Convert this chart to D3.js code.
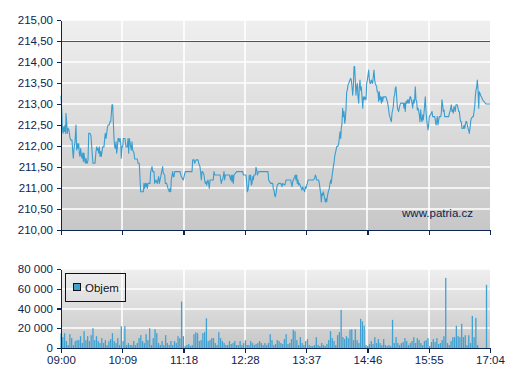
<!DOCTYPE html>
<html><head><meta charset="utf-8">
<script src="https://cdn.jsdelivr.net/npm/d3@7"></script>
<style>
html,body{margin:0;padding:0;background:#fff;}
svg{display:block;font-family:"Liberation Sans",Arial,sans-serif;}
</style></head>
<body><svg id="c" width="507" height="380"></svg>
<script>
// ---- DATA ----
// time axis: minutes after 09:00
const timeTickMinutes = [0, 69.14, 138.29, 207.43, 276.57, 345.71, 414.86, 484];
const timeTickLabels = ["09:00","10:09","11:18","12:28","13:37","14:46","15:55","17:04"];
const priceTicks = [210, 210.5, 211, 211.5, 212, 212.5, 213, 213.5, 214, 214.5, 215];
const referencePrice = 214.5;
const volumeTicks = [0, 20000, 40000, 60000, 80000];
const legendLabel = "Objem";
const watermark = "www.patria.cz";
// [minute, price]
const priceSeries = [
[0,213.2],[0.8,212.86],[1.5,212.45],[2.3,212.30],[3.0,212.46],[3.7,212.34],[4.5,212.50],[5.3,212.30],[5.6,212.78],[6.4,212.58],
[7.1,212.30],[7.9,212.42],[9.0,212.38],[10.2,212.18],[11.3,212.14],[12.4,212.14],[13.5,211.80],[13.9,211.71],[14.7,211.94],[15.8,212.10],
[16.9,212.50],[17.7,211.90],[18.4,212.06],[19.2,211.94],[20.0,212.06],[20.6,211.83],[21.4,211.75],[22.2,211.94],[22.9,211.79],[23.7,211.71],
[24.5,211.83],[25.2,211.63],[25.9,211.83],[26.7,211.67],[27.4,211.59],[28.2,211.71],[29.0,211.59],[29.7,211.59],[30.5,211.67],[31.3,212.30],
[32.7,212.30],[33.8,212.25],[34.6,212.00],[35.3,211.80],[36.1,211.59],[38.4,211.59],[39.5,211.87],[40.3,211.98],[41.0,211.90],[41.7,211.94],
[42.5,211.83],[43.2,211.98],[44.0,211.75],[44.8,211.87],[45.5,211.75],[46.3,211.87],[47.0,211.98],[48.5,211.98],[49.3,212.18],[50.0,212.30],
[50.8,212.18],[51.6,212.30],[52.2,212.42],[53.0,212.50],[54.5,212.50],[55.3,212.58],[56.1,212.58],[56.7,212.74],[57.5,212.98],[58.3,212.98],
[59.0,212.58],[59.8,212.18],[60.6,211.98],[61.3,211.94],[62.1,212.10],[62.8,211.83],[63.5,211.94],[64.3,212.18],[65.1,212.18],[65.8,212.10],
[66.6,212.18],[67.4,212.06],[68.0,211.71],[68.8,211.98],[69.6,211.98],[70.3,212.18],[72.2,212.18],[73.3,211.98],[74.8,211.98],[75.6,212.18],
[76.4,211.83],[77.1,212.18],[77.8,212.10],[78.6,211.98],[79.3,211.90],[80.1,212.10],[80.9,211.90],[82.4,211.83],[83.1,211.69],[86.1,211.69],
[86.9,211.59],[88.3,211.59],[89.9,210.91],[92.9,210.91],[93.6,211.11],[94.4,210.99],[95.1,211.11],[95.9,211.03],[96.7,211.11],[97.4,210.99],
[98.2,211.11],[100.4,211.11],[101.2,211.39],[102.7,211.51],[103.5,211.39],[104.9,211.39],[105.7,211.11],[107.2,211.19],[108.6,211.11],[110.2,211.27],
[110.9,211.11],[112.5,211.27],[113.2,211.35],[114.7,211.51],[115.4,211.35],[117.0,211.31],[117.7,211.11],[119.2,211.11],[120.7,210.99],[122.2,210.91],
[123.0,210.99],[123.8,210.91],[124.4,211.19],[126.0,211.39],[126.7,211.27],[127.5,211.27],[128.3,211.39],[134.3,211.39],[135.7,211.27],[138.0,211.19],
[138.8,211.27],[140.2,211.39],[147.8,211.39],[148.6,211.67],[150.1,211.67],[150.8,211.59],[152.3,211.67],[154.6,211.67],[155.4,211.59],[156.8,211.51],
[157.6,211.35],[158.3,211.19],[159.1,211.39],[159.9,211.39],[161.3,211.31],[162.1,211.19],[162.8,211.11],[163.6,211.15],[164.4,211.07],[165.1,211.15],
[165.8,211.19],[166.6,211.11],[167.3,210.99],[168.1,211.19],[171.8,211.19],[172.6,211.39],[173.4,211.31],[179.4,211.31],[180.2,211.19],[180.9,211.11],
[181.6,211.19],[182.4,211.19],[183.9,211.39],[184.7,211.19],[185.4,211.31],[189.9,211.31],[191.5,211.19],[192.1,211.31],[192.9,211.15],[193.7,211.31],
[194.4,211.11],[195.2,211.31],[198.2,211.39],[203.4,211.39],[205.0,211.39],[205.7,211.31],[208.7,211.31],[209.5,211.11],[210.2,210.91],[211.0,210.95],
[211.8,211.11],[212.4,211.31],[213.2,211.19],[214.0,211.31],[214.7,211.07],[215.5,211.11],[216.3,211.27],[217.0,211.19],[217.7,211.31],[219.2,211.31],
[220.0,211.49],[220.8,211.43],[221.5,211.31],[223.0,211.39],[233.5,211.39],[234.3,211.19],[236.6,211.11],[238.8,211.11],[239.5,210.99],[240.3,210.95],
[241.1,210.83],[241.7,210.79],[242.6,210.87],[243.4,210.99],[244.0,211.07],[245.6,211.11],[247.9,211.11],[248.6,211.07],[249.3,211.03],[250.1,211.11],
[252.4,211.07],[253.1,211.11],[253.8,211.19],[259.1,211.19],[260.6,211.03],[261.4,211.15],[262.1,211.19],[263.7,211.27],[264.3,211.31],[265.1,211.19],
[265.9,211.31],[266.6,211.11],[267.4,211.19],[268.2,211.07],[268.9,211.11],[270.4,211.03],[271.9,210.95],[272.7,211.03],[273.4,210.99],[274.2,210.95],
[274.9,210.91],[275.6,211.03],[276.4,210.99],[277.2,211.07],[277.9,211.11],[278.7,211.19],[284.6,211.19],[286.2,211.23],[286.9,211.31],[287.7,211.27],
[288.5,211.19],[290.7,211.19],[291.4,211.11],[292.2,210.99],[293.0,210.87],[293.7,210.67],[294.5,210.87],[295.2,210.83],[295.9,210.91],[296.7,210.83],
[297.5,210.75],[298.2,210.67],[299.0,210.75],[299.8,210.67],[300.4,210.79],[301.2,210.87],[302.0,210.95],[302.7,210.99],[303.5,211.11],[304.3,211.19],
[304.9,211.11],[305.7,211.27],[306.5,211.39],[307.2,211.51],[308.0,211.59],[308.8,211.75],[309.5,211.83],[310.3,211.90],[311.0,211.98],[312.5,212.00],
[313.3,212.06],[314.0,212.18],[314.8,212.34],[315.6,212.18],[316.2,212.42],[317.0,212.54],[317.8,212.90],[318.5,212.70],[319.3,212.82],[320.1,212.54],
[320.7,212.62],[321.5,212.86],[322.3,213.29],[323.0,213.33],[323.8,213.45],[324.6,213.49],[325.3,213.53],[326.0,213.57],[326.8,213.61],[327.5,213.57],
[328.3,213.41],[329.1,213.21],[329.8,213.41],[330.6,213.89],[331.3,213.89],[332.0,213.57],[332.8,213.21],[333.6,213.41],[334.3,213.49],[335.1,213.17],
[335.9,213.02],[336.5,213.37],[337.3,213.57],[338.1,213.33],[338.8,213.41],[339.6,213.17],[340.4,212.90],[341.1,213.17],[341.9,213.10],[342.6,213.17],
[344.1,213.10],[344.9,213.49],[345.6,213.57],[346.4,213.69],[347.1,213.81],[347.8,213.61],[348.6,213.49],[349.4,213.49],[350.1,213.57],[351.6,213.49],
[352.3,213.65],[353.1,213.81],[353.9,213.57],[354.6,213.49],[355.3,213.45],[356.1,213.41],[356.8,213.29],[357.6,213.29],[358.4,213.06],[359.1,213.29],
[359.9,213.10],[360.6,213.17],[361.4,213.02],[362.2,213.17],[362.9,213.06],[363.7,213.17],[366.7,213.17],[367.5,213.10],[368.2,213.06],[368.9,212.98],
[369.7,212.86],[370.4,212.74],[372.0,212.62],[372.7,212.58],[373.4,212.78],[374.2,212.86],[374.9,212.94],[375.7,213.17],[376.4,213.21],[377.1,213.37],
[377.9,213.41],[378.7,213.17],[379.4,212.94],[380.1,212.86],[380.9,212.82],[381.6,212.90],[382.5,212.98],[383.2,213.02],[386.2,213.02],[387.0,212.90],
[387.7,213.02],[388.4,212.82],[389.2,213.06],[390.0,213.02],[390.7,213.10],[391.5,213.02],[392.3,213.10],[392.9,213.02],[393.7,213.17],[394.5,213.17],
[395.2,213.10],[396.0,213.02],[396.8,212.90],[397.5,213.10],[398.3,213.02],[399.0,213.10],[399.7,213.41],[400.5,213.10],[401.3,213.06],[402.0,212.86],
[402.8,212.90],[403.6,212.82],[404.3,212.74],[405.0,212.58],[405.8,212.86],[406.5,212.66],[407.3,212.58],[408.1,212.74],[408.7,212.62],[409.5,212.78],
[410.3,212.98],[411.0,213.17],[411.8,212.82],[412.6,212.62],[413.3,212.50],[414.1,212.38],[414.8,212.50],[415.5,212.70],[417.8,212.78],[418.6,212.82],
[419.3,212.70],[421.6,212.70],[422.3,212.62],[423.1,212.50],[423.9,212.58],[424.5,212.70],[425.3,212.50],[426.1,212.62],[426.8,212.70],[428.4,212.70],
[429.1,212.78],[429.8,213.10],[430.6,212.98],[431.3,212.82],[432.1,212.86],[432.9,212.70],[437.4,212.70],[438.1,212.78],[438.9,212.82],[440.3,212.98],
[441.1,212.82],[441.9,212.86],[442.6,212.78],[443.4,212.94],[444.2,212.90],[444.8,212.82],[445.6,212.98],[447.1,212.98],[447.9,212.90],[448.7,212.82],
[449.4,212.82],[450.2,212.66],[450.9,212.58],[451.6,212.58],[452.4,212.42],[453.9,212.42],[454.7,212.50],[455.5,212.42],[456.1,212.50],[456.9,212.58],
[457.7,212.58],[458.4,212.50],[459.2,212.42],[460.0,212.38],[460.6,212.30],[461.4,212.42],[462.2,212.58],[462.9,212.66],[464.5,212.70],[465.2,212.70],
[466.0,212.82],[466.8,212.94],[467.4,213.17],[468.2,213.33],[469.0,213.41],[469.7,213.57],[470.5,213.33],[471.3,212.90],[471.9,213.29],[472.7,213.25],
[474.2,213.17],[475.8,213.10],[477.2,213.06],[478.7,213.02],[479.5,213.00],[484.0,213.00]
];
// volume in thousands of shares, one bar per 2-minute interval starting at 09:00
const volumeStepMinutes = 2;
const volumesThousands = [
15,11,15,7,3,14,10,3,7,8, 8,12,5,17,8,12,7,13,20,8, 12,7,5,10,5,8,3,7,9,15, 7,5,10,3,22,7,22,3,5,3,
3,7,3,5,10,13,7,5,14,8, 20,3,10,19,15,5,3,7,3,13, 5,3,7,3,7,5,12,10,47,12, 2,3,4,2,3,14,16,15,7,8,
15,16,30,7,8,10,10,5,3,16, 10,7,5,3,3,7,4,5,7,3, 3,7,3,5,8,3,3,7,5,3, 4,5,7,5,3,5,3,5,14,8,
3,4,8,7,5,4,9,14,4,5, 9,18.5,17,8,3,11,5,3,7,9, 3,2,2,3,11,3,2,5,3,2, 4,8,17,10,7,3,13,16,38.6,11,
9,12,10,18.5,19,8,19,8,5,29.5, 27,22.5,3,2,4,7,4,11,5,9, 5,3,9,3,2,3,2,28.5,5,11, 5,3,5,6,10,7,3,5,7,11,
5,10,8,5,3,7,8,10,2,6, 9,6,10,4,5,8,12,71,5,3, 7,11,11,22.5,12,11,24.5,11,13,3, 13,5,32.5,11,30.5,3,0,0,0,0,
64,0
];

// ---- CHART ----
const navy = "#0c2452";
const lineBlue = "#3a9dcf";
const svg = d3.select("#c");
const L = 61, R = 490;
const topY0 = 20, topY1 = 230;
const botY0 = 269, botY1 = 348;

const defs = svg.append("defs");
const grad = defs.append("linearGradient").attr("id","bg").attr("x1",0).attr("y1",0).attr("x2",0).attr("y2",1);
grad.append("stop").attr("offset","0%").attr("stop-color","#efefef");
grad.append("stop").attr("offset","100%").attr("stop-color","#c7c7c7");

const x = d3.scaleLinear().domain([0, 484]).range([L, R]);
const yP = d3.scaleLinear().domain([210, 215]).range([topY1, topY0]);
const yV = d3.scaleLinear().domain([0, 80000]).range([botY1, botY0]);

function panel(y0, y1, yScale, ticks) {
  const g = svg.append("g");
  g.append("rect").attr("x", L).attr("y", y0).attr("width", R - L).attr("height", y1 - y0).attr("fill", "url(#bg)");
  g.selectAll("line.h").data(ticks.filter(d => yScale(d) < y1 - 1)).join("line")
    .attr("x1", L).attr("x2", R).attr("y1", d => Math.round(yScale(d))).attr("y2", d => Math.round(yScale(d)))
    .attr("stroke", "#fff").attr("stroke-width", 1.6);
  g.selectAll("line.v").data(timeTickMinutes.slice(1, -1)).join("line")
    .attr("x1", d => Math.round(x(d))).attr("x2", d => Math.round(x(d))).attr("y1", y0).attr("y2", y1)
    .attr("stroke", "#fff").attr("stroke-width", 1.6);
  return g;
}

// price panel
panel(topY0, topY1, yP, priceTicks);
svg.append("line").attr("x1", L).attr("x2", R)
  .attr("y1", Math.round(yP(referencePrice)) + 0.5).attr("y2", Math.round(yP(referencePrice)) + 0.5)
  .attr("stroke", "#a8302c").attr("stroke-width", 1);
svg.append("path").datum(priceSeries)
  .attr("fill", "none").attr("stroke", lineBlue).attr("stroke-width", 1.1).attr("stroke-linejoin", "round")
  .attr("d", d3.line().x(d => x(d[0])).y(d => yP(d[1])));
svg.append("text").attr("x", 473).attr("y", 217).attr("text-anchor", "end")
  .attr("font-size", 11.5).attr("fill", navy).text(watermark);

const fmtPrice = d => d.toFixed(2).replace(".", ",");
const fmtVol = d => d === 0 ? "0" : d3.format(",")(d).replace(/,/g, " ");

function styleAxis(g) {
  g.attr("shape-rendering", "crispEdges");
  g.selectAll("path.domain").attr("stroke", navy).attr("stroke-width", 1.3);
  g.selectAll(".tick line").attr("stroke", navy).attr("stroke-width", 1.3);
  g.selectAll(".tick text").attr("fill", navy).attr("font-size", 11.5)
    .attr("font-family", "'Liberation Sans',Arial,sans-serif").attr("shape-rendering", null);
}

svg.append("g").attr("transform", `translate(${L},0)`)
  .call(d3.axisLeft(yP).tickValues(priceTicks).tickFormat(fmtPrice).tickSize(4).tickSizeOuter(0).tickPadding(4))
  .call(styleAxis);
svg.append("g").attr("transform", `translate(0,${topY1})`)
  .call(d3.axisBottom(x).tickValues(timeTickMinutes).tickFormat("").tickSize(5).tickSizeOuter(0))
  .call(styleAxis);

// volume panel
panel(botY0, botY1, yV, volumeTicks);
const volData = volumesThousands.map((v, i) => ({ t: i * volumeStepMinutes, v: v * 1000 }));
svg.append("g").selectAll("rect").data(volData.filter(d => d.v > 0)).join("rect")
  .attr("x", d => x(d.t) - 0.6).attr("width", 1.3)
  .attr("y", d => yV(d.v)).attr("height", d => botY1 - yV(d.v))
  .attr("fill", "#41a2d2");

svg.append("g").attr("transform", `translate(${L},0)`)
  .call(d3.axisLeft(yV).tickValues(volumeTicks).tickFormat(fmtVol).tickSize(4).tickSizeOuter(0).tickPadding(4))
  .call(styleAxis);
svg.append("g").attr("transform", `translate(0,${botY1})`)
  .call(d3.axisBottom(x).tickValues(timeTickMinutes).tickFormat((d, i) => timeTickLabels[i]).tickSize(5).tickSizeOuter(0).tickPadding(3))
  .call(styleAxis);

// legend
const lg = svg.append("g");
lg.append("rect").attr("x", 65.5).attr("y", 273.5).attr("width", 60).attr("height", 28)
  .attr("fill", "none").attr("stroke", "#111").attr("stroke-width", 1);
lg.append("rect").attr("x", 73.5).attr("y", 283.5).attr("width", 7).attr("height", 7)
  .attr("fill", "#41a2d2").attr("stroke", "#111").attr("stroke-width", 1);
lg.append("text").attr("x", 85).attr("y", 291.5).attr("font-size", 11.5).attr("fill", "#111").text(legendLabel);
</script>
</body></html>
